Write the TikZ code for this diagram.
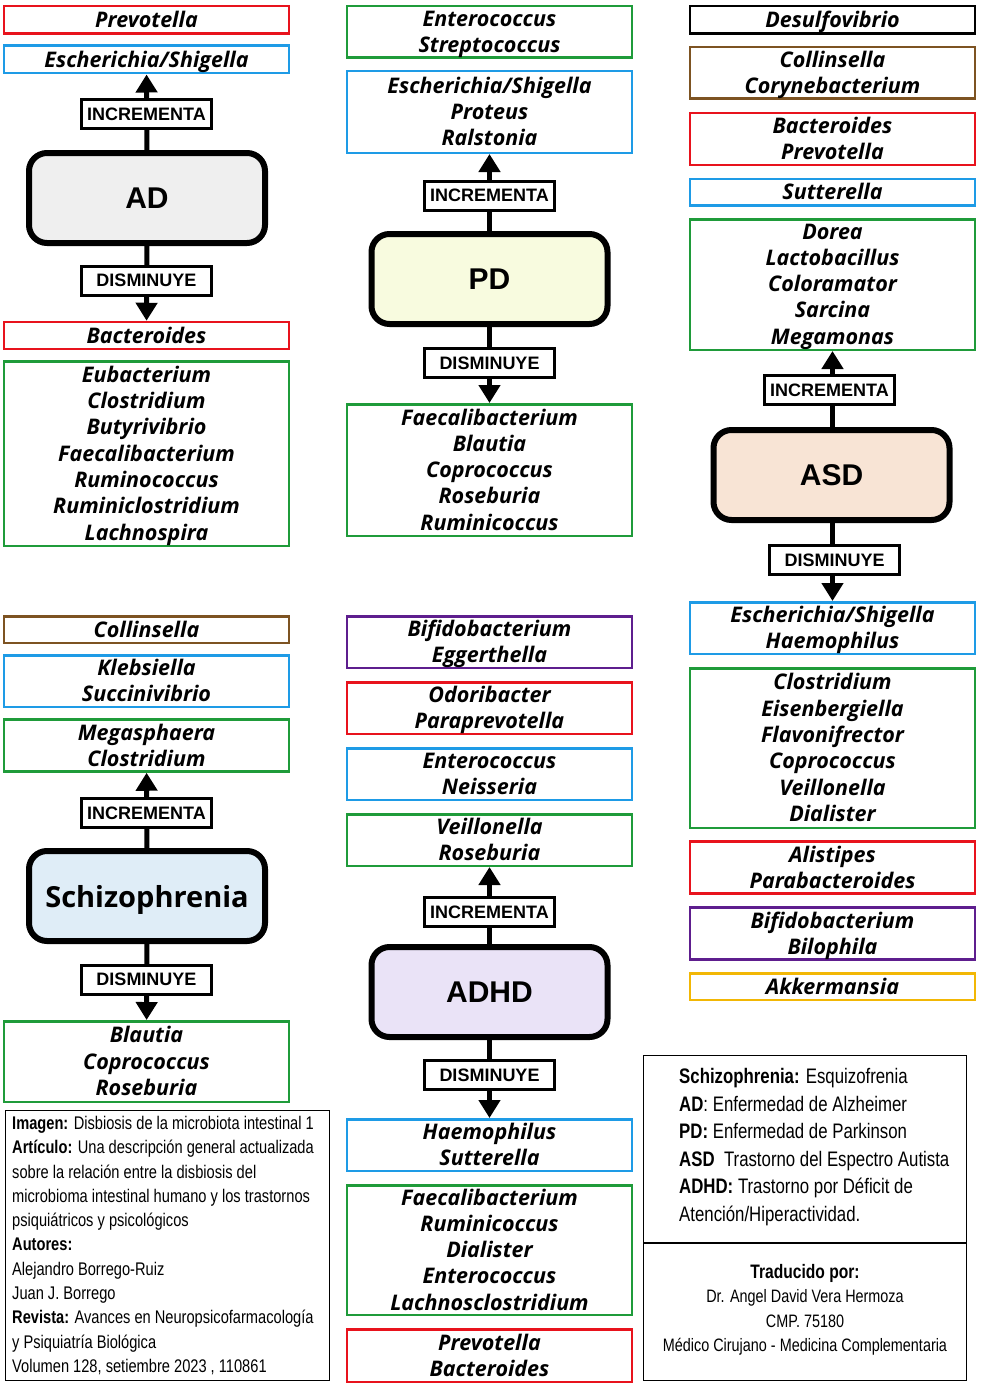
\documentclass[tikz,border=0pt]{standalone}
\usepackage{fontspec}
\usepackage{xcolor}
\usetikzlibrary{arrows.meta, backgrounds}
\newfontfamily\bactfont{Open Sans}
\newfontfamily\arialfont{Liberation Sans}
\newfontfamily\narrowfont{Liberation Sans}[FakeStretch=0.8]
\definecolor{cred}{HTML}{E8131D}
\definecolor{cblue}{HTML}{1E9BE6}
\definecolor{cgreen}{HTML}{1F9B3A}
\definecolor{cbrown}{HTML}{7D5322}
\definecolor{cpurple}{HTML}{5E1E8E}
\definecolor{cyellow}{HTML}{F2B705}
\definecolor{fad}{HTML}{EFEFEF}
\definecolor{fpd}{HTML}{F8FBDF}
\definecolor{fasd}{HTML}{F8E4D5}
\definecolor{fsz}{HTML}{DFEDF7}
\definecolor{fadhd}{HTML}{EAE3F7}

\begin{document}
\begin{tikzpicture}[x=1pt, y=-1pt,
    bx/.style={draw, line width=2.5pt, fill=white, minimum width=285pt, inner sep=0pt, align=center,
      text depth=1pt, font=\bactfont\bfseries\itshape\fontsize{21.5}{26.3}\selectfont},
    dis/.style={draw, line width=6pt, rounded corners=18pt, minimum width=236pt, minimum height=90pt,
      text depth=0pt, font=\arialfont\bfseries\fontsize{30}{36}\selectfont},
    lab/.style={draw, line width=3pt, fill=white, minimum width=130pt, minimum height=29pt, inner sep=0pt,
      font=\arialfont\bfseries\fontsize{18}{20}\selectfont},
    a/.style={-{Triangle[length=18pt, width=21pt]}, line width=5pt},
    info/.style={anchor=north west, align=left, inner sep=0pt, font=\narrowfont\fontsize{18.3}{24.3}\selectfont}
]
\useasboundingbox (0,0) rectangle (980,1386);

% AD
\node[bx, draw=cred, minimum height=27.5pt] (ad1) at (146.5,20) {Prevotella};
\node[bx, draw=cblue, minimum height=27.5pt] (ad2) at (146.5,59.5) {Escherichia/Shigella};
\node[lab] (adinc) at (146.5,114) {INCREMENTA};
\node[dis, fill=fad] (ad) at (147,198) {AD};
\node[lab] (addis) at (146.5,280.5) {DISMINUYE};
\node[bx, draw=cred, minimum height=27pt] (ad3) at (146.5,335.5) {Bacteroides};
\node[bx, draw=cgreen, minimum height=184.5pt] (ad4) at (146.5,453.5)
  {Eubacterium\\ Clostridium\\ Butyrivibrio\\ Faecalibacterium\\ Ruminococcus\\ Ruminiclostridium\\ Lachnospira};

% PD
\node[bx, draw=cgreen, minimum height=51.5pt] (pd1) at (489.5,32) {Enterococcus\\ Streptococcus};
\node[bx, draw=cblue, minimum height=81.5pt] (pd2) at (489.5,112) {Escherichia/Shigella\\ Proteus\\ Ralstonia};
\node[lab] (pdinc) at (489.5,195.5) {INCREMENTA};
\node[dis, fill=fpd] (pd) at (489.5,279) {PD};
\node[lab] (pddis) at (489.5,363) {DISMINUYE};
\node[bx, draw=cgreen, minimum height=131.5pt] (pd3) at (489.5,470)
  {Faecalibacterium\\ Blautia\\ Coprococcus\\ Roseburia\\ Ruminicoccus};

% ASD
\node[bx, draw=black, minimum height=27.5pt] (as1) at (832.5,20) {Desulfovibrio};
\node[bx, draw=cbrown, minimum height=51.5pt] (as2) at (832.5,73) {Collinsella\\ Corynebacterium};
\node[bx, draw=cred, minimum height=51.5pt] (as3) at (832.5,139) {Bacteroides\\ Prevotella};
\node[bx, draw=cblue, minimum height=26.5pt] (as4) at (832.5,192) {Sutterella};
\node[bx, draw=cgreen, minimum height=130.5pt] (as5) at (832.5,284.5)
  {Dorea\\ Lactobacillus\\ Coloramator\\ Sarcina\\ Megamonas};
\node[lab] (asinc) at (829.5,390) {INCREMENTA};
\node[dis, fill=fasd] (as) at (831.5,475) {ASD};
\node[lab] (asdis) at (834.5,560) {DISMINUYE};
\node[bx, draw=cblue, minimum height=51.5pt] (as6) at (832.5,628) {Escherichia/Shigella\\ Haemophilus};
\node[bx, draw=cgreen, minimum height=159.5pt] (as7) at (832.5,748)
  {Clostridium\\ Eisenbergiella\\ Flavonifrector\\ Coprococcus\\ Veillonella\\ Dialister};
\node[bx, draw=cred, minimum height=52pt] (as8) at (832.5,867.5) {Alistipes\\ Parabacteroides};
\node[bx, draw=cpurple, minimum height=52pt] (as9) at (832.5,933.5) {Bifidobacterium\\ Bilophila};
\node[bx, draw=cyellow, minimum height=26.5pt] (as10) at (832.5,986.5) {Akkermansia};

% Schizophrenia
\node[bx, draw=cbrown, minimum height=26.5pt] (sz1) at (146.5,629.5) {Collinsella};
\node[bx, draw=cblue, minimum height=51.5pt] (sz2) at (146.5,681) {Klebsiella\\ Succinivibrio};
\node[bx, draw=cgreen, minimum height=52pt] (sz3) at (146.5,745.5) {Megasphaera\\ Clostridium};
\node[lab] (szinc) at (146.5,813) {INCREMENTA};
\node[dis, fill=fsz, font=\bactfont\bfseries\fontsize{29}{34}\selectfont] (sz) at (147,896) {Schizophrenia};
\node[lab] (szdis) at (146.5,979.5) {DISMINUYE};
\node[bx, draw=cgreen, minimum height=80.5pt] (sz4) at (146.5,1061.5) {Blautia\\ Coprococcus\\ Roseburia};

% ADHD
\node[bx, draw=cpurple, minimum height=51.5pt] (ah1) at (489.5,642) {Bifidobacterium\\ Eggerthella};
\node[bx, draw=cred, minimum height=51.5pt] (ah2) at (489.5,708) {Odoribacter\\ Paraprevotella};
\node[bx, draw=cblue, minimum height=51.5pt] (ah3) at (489.5,774) {Enterococcus\\ Neisseria};
\node[bx, draw=cgreen, minimum height=51.5pt] (ah4) at (489.5,840) {Veillonella\\ Roseburia};
\node[lab] (ahinc) at (489.5,912) {INCREMENTA};
\node[dis, fill=fadhd] (ah) at (489.5,992) {ADHD};
\node[lab] (ahdis) at (489.5,1075) {DISMINUYE};
\node[bx, draw=cblue, minimum height=51.5pt] (ah5) at (489.5,1145) {Haemophilus\\ Sutterella};
\node[bx, draw=cgreen, minimum height=129.5pt] (ah6) at (489.5,1250)
  {Faecalibacterium\\ Ruminicoccus\\ Dialister\\ Enterococcus\\ Lachnosclostridium};
\node[bx, draw=cred, minimum height=52.5pt] (ah7) at (489.5,1355.5) {Prevotella\\ Bacteroides};

% info and legend
\draw[line width=1.5pt] (5.5,1110.5) rectangle (329.5,1380.5);
\node[info] (src) at (12,1116)
  {\textbf{Imagen:} Disbiosis de la microbiota intestinal 1\\
   \textbf{Artículo:} Una descripción general actualizada\\
   sobre la relación entre la disbiosis del\\
   microbioma intestinal humano y los trastornos\\
   psiquiátricos y psicológicos\\
   \textbf{Autores:}\\
   Alejandro Borrego-Ruiz\\
   Juan J. Borrego\\
   \textbf{Revista:} Avances en Neuropsicofarmacología\\
   y Psiquiatría Biológica\\
   Volumen 128, setiembre 2023 , 110861};
\draw[line width=1.5pt] (643.5,1055.5) rectangle (966.5,1380.5);
\draw[line width=1.5pt] (643.5,1243) -- (966.5,1243);
\node[info, font=\narrowfont\fontsize{21}{27.6}\selectfont] (leg) at (679,1068)
  {\textbf{Schizophrenia:} Esquizofrenia\\
   \textbf{AD}: Enfermedad de Alzheimer\\
   \textbf{PD:} Enfermedad de Parkinson\\
   \textbf{ASD}\ \ Trastorno del Espectro Autista\\
   \textbf{ADHD:} Trastorno por Déficit de\\
   Atención/Hiperactividad.};
\node[align=center, inner sep=0pt, font=\narrowfont\fontsize{18}{24.5}\selectfont] (trad) at (805,1310)
  {{\fontsize{19.5}{24.5}\selectfont\textbf{Traducido por:}}\\
   Dr. Angel David Vera Hermoza\\
   CMP. 75180\\
   Médico Cirujano - Medicina Complementaria};

% arrows
\begin{scope}[on background layer]
\draw[a] (ad) -- (ad2);
\draw[a] (ad) -- (ad3);
\draw[a] (pd) -- (pd2);
\draw[a] (pd) -- (pd3);
\draw[a] (as.north -| as5) -- (as5);
\draw[a] (as.south -| as6) -- (as6);
\draw[a] (sz) -- (sz3);
\draw[a] (sz) -- (sz4);
\draw[a] (ah) -- (ah4);
\draw[a] (ah) -- (ah5);
\end{scope}
\end{tikzpicture}
\end{document}
